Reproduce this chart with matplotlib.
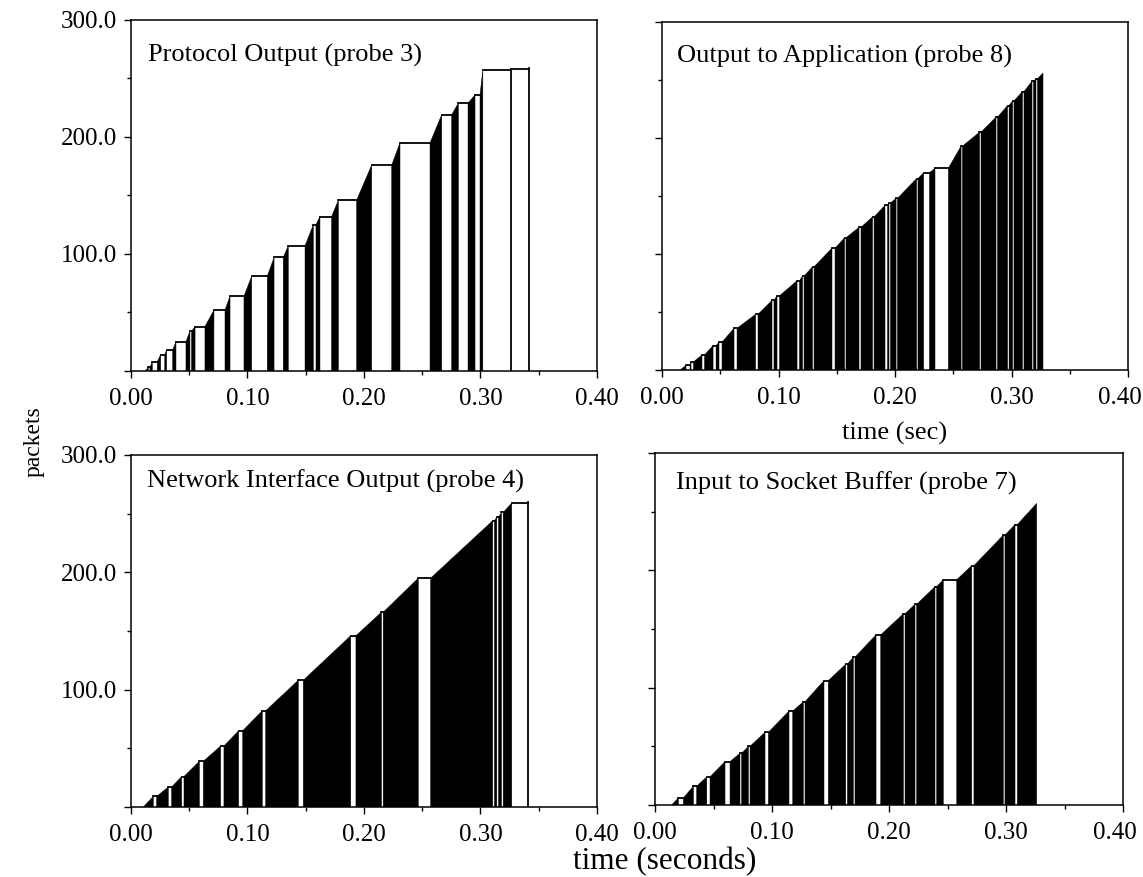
import matplotlib.pyplot as plt
from matplotlib.ticker import MultipleLocator, FormatStrFormatter, FuncFormatter

plt.rcParams['font.family'] = ['Liberation Serif', 'DejaVu Serif']

# each probe: bursts of packets, start time, end time (sec), cumulative packets at end
p3_t0 = [0.0120, 0.0163, 0.0226, 0.0290, 0.0358, 0.0472, 0.0520, 0.0635, 0.0807, 0.0970,
         0.1170, 0.1307, 0.1494, 0.1588, 0.1722, 0.1937, 0.2238, 0.2567, 0.2753, 0.2893,
         0.2996, 0.3266, 0.3416]
p3_t1 = [0.0149, 0.0183, 0.0255, 0.0306, 0.0386, 0.0506, 0.0550, 0.0712, 0.0850, 0.1036,
         0.1228, 0.1350, 0.1565, 0.1622, 0.1780, 0.2066, 0.2309, 0.2667, 0.2810, 0.2953,
         0.3020, 0.3266, 0.3416]
p3_c = [3, 8, 14, 18, 25, 34, 38, 52, 64, 81, 97, 107, 125, 132, 146, 176, 195, 219, 229, 236,
        257, 258, 259]

p8_t0 = [0.0155, 0.0240, 0.0270, 0.0365, 0.0464, 0.0515, 0.0644, 0.0824, 0.0961, 0.1009,
         0.1180, 0.1219, 0.1305, 0.1485, 0.1579, 0.1708, 0.1820, 0.1936, 0.1961, 0.2021,
         0.2197, 0.2296, 0.2458, 0.2579, 0.2738, 0.2880, 0.2979, 0.3021, 0.3107, 0.3189, 0.3223]
p8_t1 = [0.0206, 0.0249, 0.0343, 0.0438, 0.0489, 0.0618, 0.0803, 0.0944, 0.0987, 0.1159,
         0.1206, 0.1292, 0.1459, 0.1567, 0.1691, 0.1807, 0.1914, 0.1948, 0.2009, 0.2185,
         0.2245, 0.2343, 0.2567, 0.2725, 0.2867, 0.2966, 0.3009, 0.3094, 0.3176, 0.3210, 0.3270]
p8_c = [4, 7, 13, 21, 24, 36, 48, 60, 64, 77, 81, 89, 105, 114, 123, 132, 142, 144, 148, 165,
        170, 174, 193, 205, 218, 228, 232, 240, 249, 251, 256]

p4_t0 = [0.0106, 0.0220, 0.0349, 0.0455, 0.0621, 0.0798, 0.0959, 0.1156, 0.1479, 0.1931,
         0.2165, 0.2572, 0.3120, 0.3155, 0.3195, 0.3410]
p4_t1 = [0.0191, 0.0320, 0.0435, 0.0587, 0.0770, 0.0924, 0.1127, 0.1436, 0.1886, 0.2150,
         0.2466, 0.3105, 0.3140, 0.3180, 0.3268, 0.3410]
p4_c = [9, 17, 26, 39, 52, 65, 82, 108, 146, 166, 195, 244, 247, 251, 259, 260]

p7_t0 = [0.0142, 0.0242, 0.0356, 0.0470, 0.0641, 0.0740, 0.0812, 0.0969, 0.1177, 0.1282,
         0.1481, 0.1644, 0.1709, 0.1929, 0.2137, 0.2236, 0.2407, 0.2579, 0.2726, 0.2991, 0.3097]
p7_t1 = [0.0199, 0.0328, 0.0442, 0.0598, 0.0726, 0.0798, 0.0940, 0.1145, 0.1268, 0.1444,
         0.1630, 0.1695, 0.1889, 0.2123, 0.2222, 0.2393, 0.2464, 0.2707, 0.2977, 0.3077, 0.3262]
p7_c = [6, 16, 24, 37, 44, 50, 62, 80, 88, 106, 120, 126, 145, 163, 171, 186, 192, 204, 230,
        239, 257]


def packets(ax, t0, t1, c, title, left, tx, ty):
    prev = 0
    for k in range(len(t0)):
        if t0[k] == t1[k]:
            # a single packet
            ax.plot([t0[k], t0[k]], [0, c[k]], color='black', lw=1.3)
        else:
            ax.fill([t0[k], t0[k], t1[k], t1[k]], [0, prev, c[k], 0],
                    facecolor='black', edgecolor='black', linewidth=0.35)
        if k + 1 < len(t0):
            ax.plot([t1[k], t0[k + 1]], [c[k], c[k]], color='black', lw=1.3)
        prev = c[k]
    ax.set_xlim(0, 0.4)
    ax.set_ylim(0, 300)
    ax.xaxis.set_major_locator(MultipleLocator(0.1))
    ax.xaxis.set_minor_locator(MultipleLocator(0.05))
    ax.set_yticks([0, 100, 200, 300])
    ax.yaxis.set_minor_locator(MultipleLocator(50))
    if left:
        ax.xaxis.set_major_formatter(FormatStrFormatter('%.2f'))
        ax.set_yticklabels(['', '100.0', '200.0', '300.0'])
    else:
        # right column: 0.40 is written a bit inward (added below)
        ax.xaxis.set_major_formatter(FuncFormatter(lambda v, p: '' if v > 0.39 else '%.2f' % v))
        ax.set_yticklabels([])
        ax.annotate('0.40', xy=(0.4, 0), xycoords=('data', 'axes fraction'),
                    xytext=(-6, -12.5), textcoords='offset points',
                    ha='center', va='top', fontsize=18, annotation_clip=False)
    ax.tick_params(which='major', direction='out', length=5, width=1, labelsize=18)
    ax.tick_params(which='minor', direction='out', length=3, width=1)
    ax.tick_params(axis='x', pad=7.5)
    ax.tick_params(axis='y', pad=5)
    for s in ax.spines.values():
        s.set_linewidth(1.1)
    ax.text(tx, ty, title, transform=ax.transAxes, fontsize=19, va='center', ha='left')


fig = plt.figure(figsize=(11.43, 8.77), dpi=100)
ax1 = fig.add_axes([0.1146, 0.5770, 0.4077, 0.4002])
ax2 = fig.add_axes([0.5792, 0.5781, 0.4077, 0.3968])
ax3 = fig.add_axes([0.1146, 0.0798, 0.4077, 0.4014])
ax4 = fig.add_axes([0.5731, 0.0821, 0.4094, 0.4014])

packets(ax1, p3_t0, p3_t1, p3_c, 'Protocol Output (probe 3)', True, 0.036, 0.90)
packets(ax2, p8_t0, p8_t1, p8_c, 'Output to Application (probe 8)', False, 0.032, 0.90)
packets(ax3, p4_t0, p4_t1, p4_c, 'Network Interface Output (probe 4)', True, 0.034, 0.926)
packets(ax4, p7_t0, p7_t1, p7_c, 'Input to Socket Buffer (probe 7)', False, 0.045, 0.915)

fig.text(895 / 1143, 1 - 433 / 877, 'time (sec)', fontsize=19, ha='center', va='center')
fig.text(665 / 1143, 1 - 862 / 877, 'time (seconds)', fontsize=22.5, ha='center', va='center')
fig.text(34 / 1143, 1 - 442 / 877, 'packets', fontsize=17, rotation=90, ha='center', va='center')

fig.savefig('out.png', dpi=100)
